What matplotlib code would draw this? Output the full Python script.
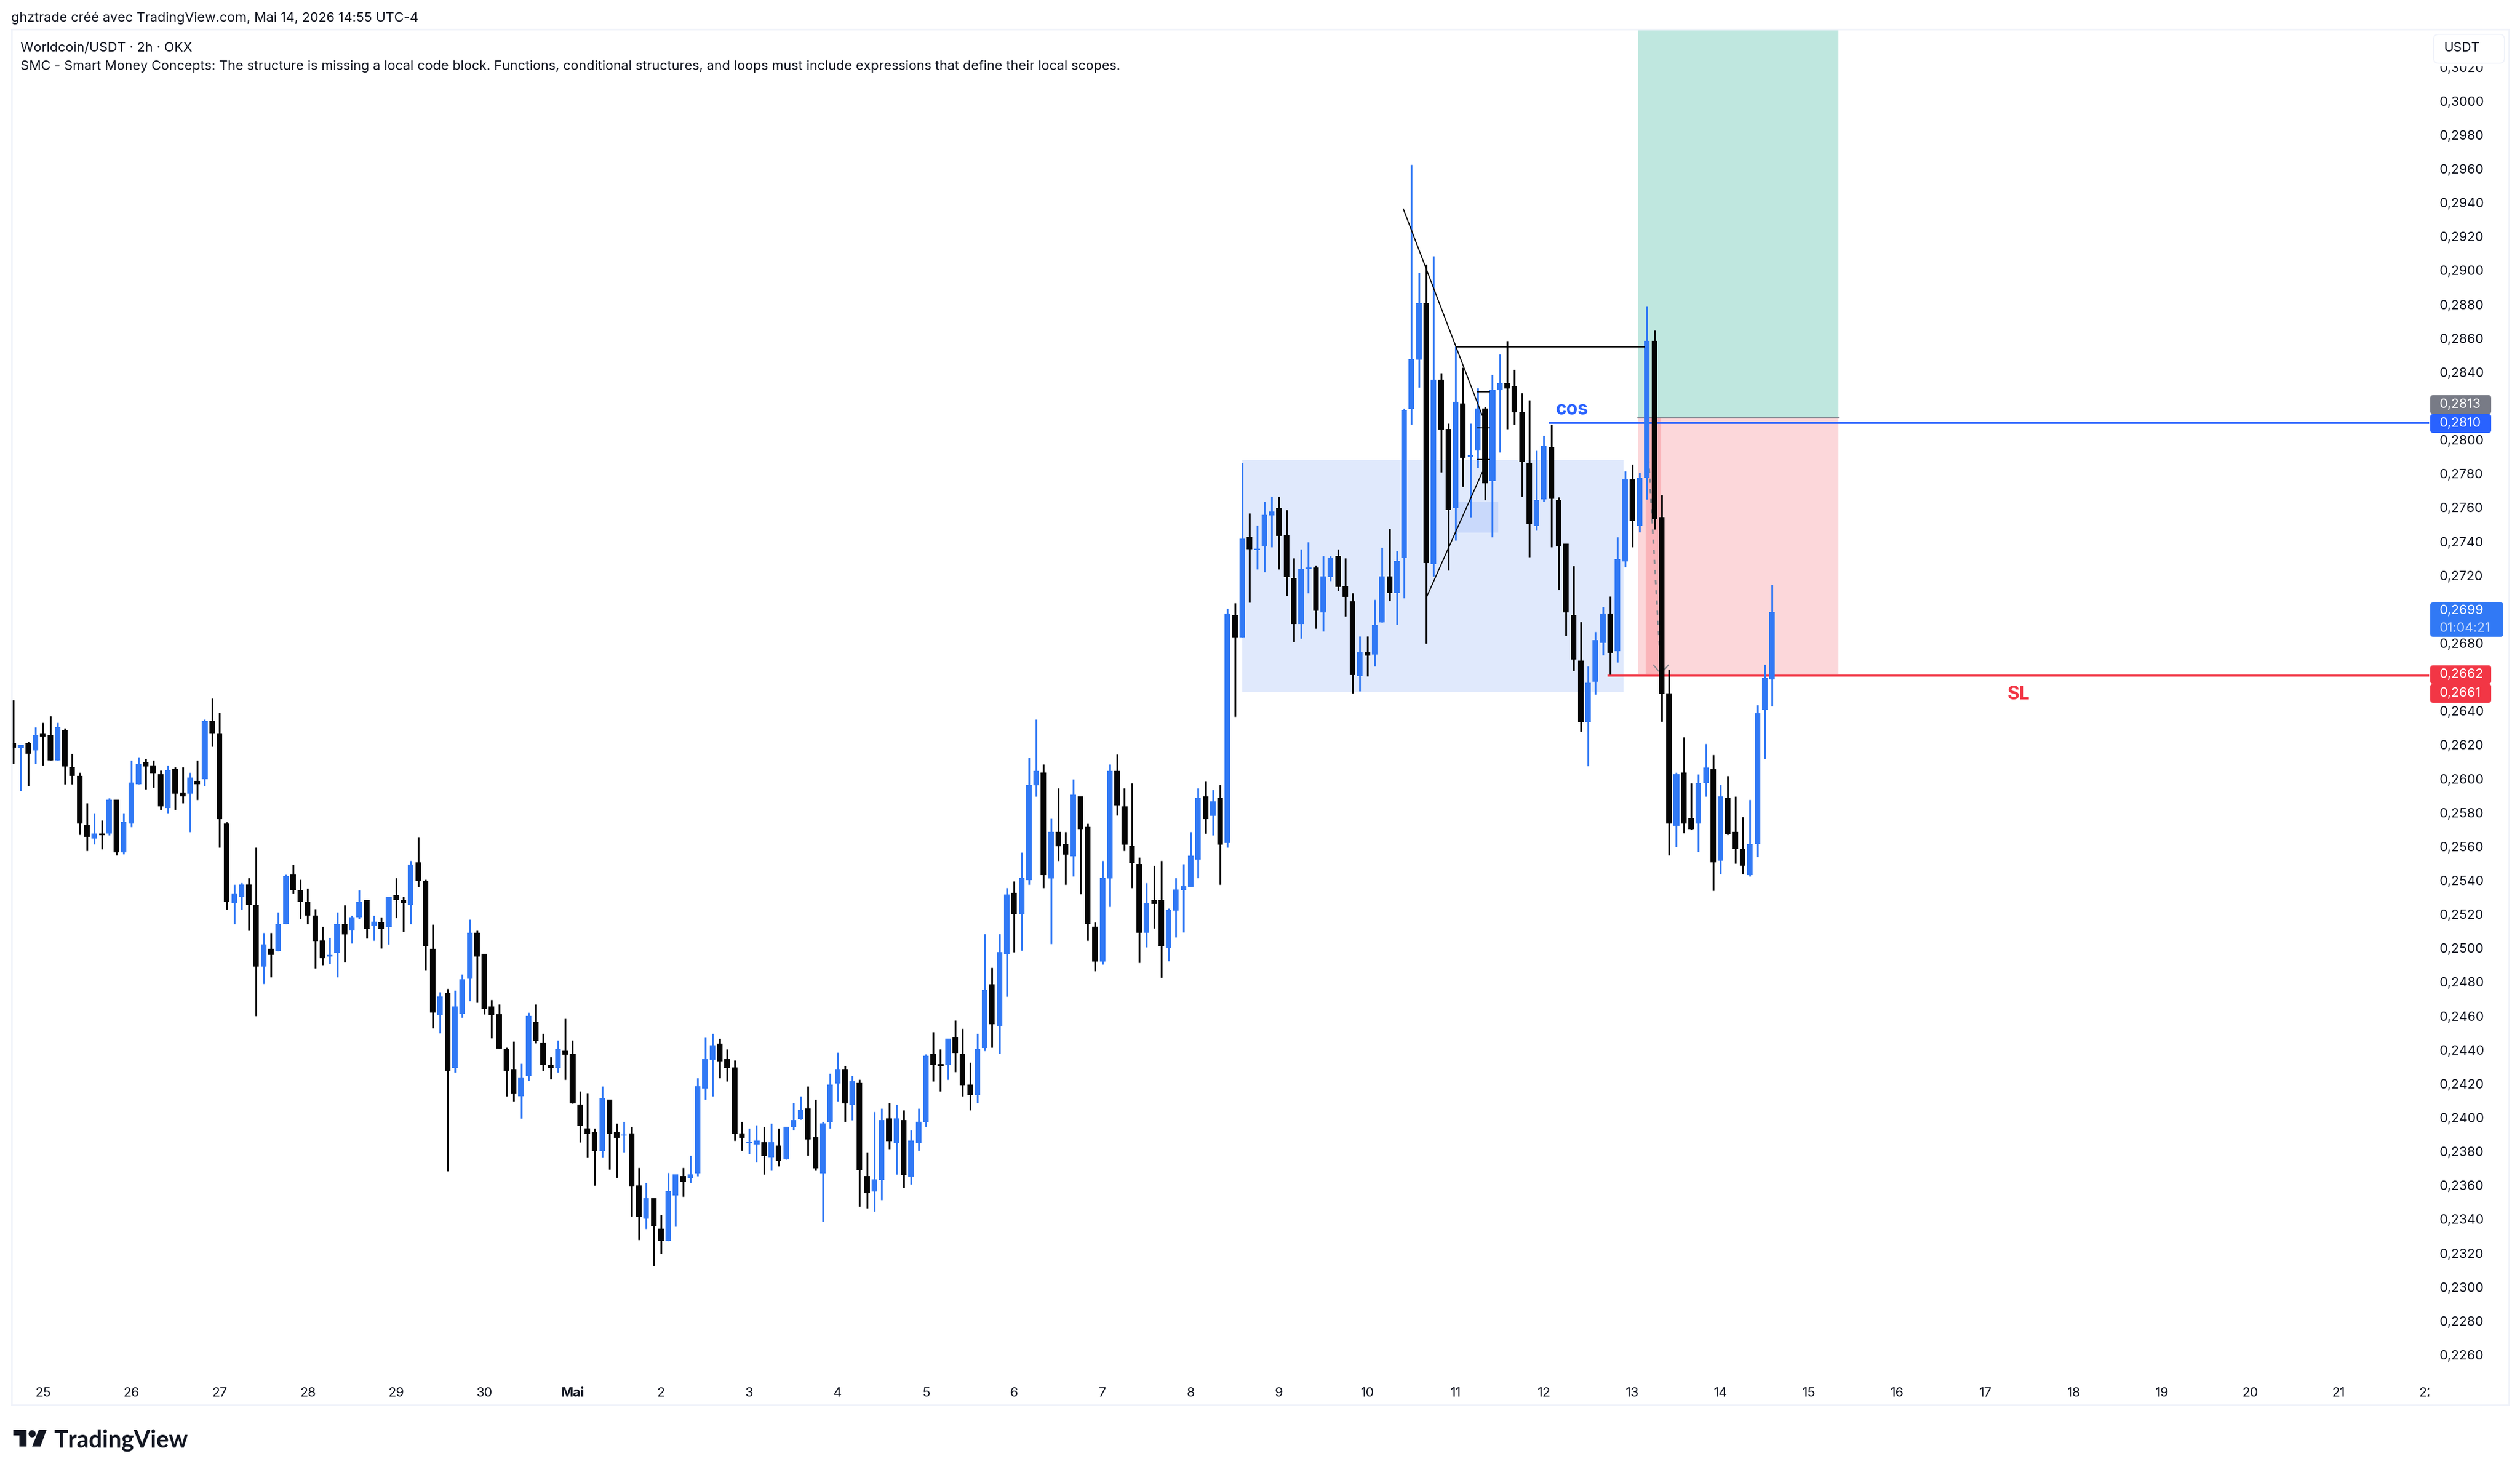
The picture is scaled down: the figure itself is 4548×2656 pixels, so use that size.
import numpy as np
import matplotlib
matplotlib.use("Agg")
import matplotlib.pyplot as plt
from matplotlib.patches import FancyBboxPatch, Polygon, Circle, Rectangle
from matplotlib.transforms import Affine2D

# lectures en 1/10000 USDT, une valeur par bougie 2h
highs = [2646.5,2620,2622,2630.5,2633,2637,2633,2630,2615,2604,
         2586,2580,2576,2589,2588,2580,2611,2613,2612,2611,
         2605,2608,2607,2607,2604,2611,2635,2647.5,2639,2575,
         2538,2539,2542,2560,2510,2510,2522,2544,2550,2541,
         2536,2524,2513.5,2507,2522,2526,2520,2535,2529,2520,
         2519,2531,2542,2531,2552,2566,2541,2514.6,2475,2477,
         2476,2485.5,2517.5,2511,2497.6,2470.6,2468,2442.6,2446,2433,
         2463,2468,2450.7,2437,2446.8,2459.6,2446.8,2417,2416,2395,
         2419.8,2412,2398,2399,2396,2372,2363.2,2354,2344.4,2369.2,
         2368.2,2372,2379.1,2424.7,2448.8,2450.8,2447.8,2441.7,2434.9,2399,
         2395,2397,2396,2398,2395,2396,2410.1,2414,2419.8,2412,
         2399,2427.1,2439.7,2431.9,2426.1,2423.7,2381.1,2404.8,2406.8,2410.1,
         2409.1,2405.8,2394.2,2406.8,2438.7,2451.6,2441.7,2447.8,2458.6,2453.6,
         2433.9,2450.8,2509.2,2489.4,2509.2,2536.3,2540.2,2557,2612.7,2634.9,
         2608.7,2576.8,2594.7,2569.2,2600,2589.9,2574,2516.1,2552.2,2608.7,
         2614.7,2594.7,2597.7,2554,2539.1,2549.2,2552.2,2524.2,2542.1,2550.3,
         2569.2,2594.7,2599,2593.8,2596.8,2700.2,2703.4,2785.5,2756.1,2749,
         2762.9,2765.7,2765.7,2757.9,2729.8,2734.8,2739.1,2725.4,2731.1,2731.1,
         2734.8,2729.8,2709.1,2684,2684,2705.2,2735.9,2747,2733.9,2817.6,
         2960.7,2897.3,2902,2906.9,2838.2,2808.6,2853.9,2841.5,2808.6,2829.5,
         2818.4,2837.4,2849.4,2857.2,2840.2,2826.7,2822.3,2792.7,2801.7,2808,
         2765.5,2738,2725.2,2692.3,2666.4,2686.4,2701.2,2707.4,2742.2,2780.8,
         2784.7,2779.9,2877.4,2863.4,2766.8,2664.4,2603.9,2624.6,2597.7,2602.9,
         2620.8,2614.4,2596.7,2602,2589.8,2577.9,2587.9,2643.5,2667.3,2714]
lows = [2609,2593,2596,2609,2608,2611,2611,2597,2597,2567.5,
        2558,2562,2559,2567,2555.4,2556,2572,2597,2594,2595,
        2582,2580,2582,2586,2569,2588,2596,2619,2560,2523.5,
        2515,2523.5,2511,2461,2480,2484,2499,2515,2533,2518,
        2515,2489,2491,2491.5,2484,2492.6,2503.6,2518,2506.5,2505.4,
        2500.7,2503,2518.5,2510.4,2515,2537,2487.6,2454,2451,2370,
        2428,2460,2470,2469,2462,2448,2442,2414,2411,2401,
        2423,2445,2429,2424,2427.9,2423.7,2409.8,2386.9,2378.3,2361.5,
        2378.3,2371,2366.2,2381.1,2343.4,2329.7,2336.3,2314.4,2321.4,2329.2,
        2337.5,2355,2363.2,2367.2,2412,2414,2424.7,2422.7,2387.9,2382.1,
        2380.1,2375.3,2368.2,2370.2,2373,2377,2394.2,2400.2,2379.1,2370.3,
        2340.5,2395,2411,2399,2400,2349.3,2348.3,2346.3,2353.2,2383.1,
        2368.2,2360.4,2362.2,2382.1,2396,2422.7,2416.9,2423.7,2428.1,2414,
        2405.8,2410.1,2440.7,2442.6,2438.9,2472.5,2498.6,2499.5,2538.2,2589.9,
        2536.3,2503.5,2552.2,2538.2,2543,2532.6,2505.3,2487.4,2491.3,2525.1,
        2578.9,2558,2536.3,2492.2,2501.4,2512.4,2483.5,2493.4,2507.4,2510.2,
        2536.9,2542.1,2568,2567.1,2538.2,2560,2636.8,2683.2,2703.6,2723.2,
        2721.5,2736.1,2723.2,2707.6,2680.6,2682.5,2709.1,2688.4,2686.7,2716.3,
        2710.6,2695.4,2650.5,2651.8,2660.3,2666.4,2691.9,2704.5,2690.6,2706.3,
        2808,2829.8,2679.5,2718.9,2780.1,2722.4,2740.2,2771.8,2753.7,2782.7,
        2764,2742.2,2791.9,2805.4,2808,2765.7,2730.2,2746.1,2762.9,2736.1,
        2711.1,2684.3,2663.6,2627.9,2607.9,2649.7,2672.8,2661.4,2668.7,2724.6,
        2736.2,2745,2764.1,2746.7,2633.9,2555.4,2560.2,2568.3,2570.2,2557.4,
        2590,2534.7,2544.2,2567.4,2550.4,2544.2,2543,2554.3,2612,2642.7]
opens = [2621,2618,2621,2617,2627,2626,2611,2629,2607,2602,
         2573,2565,2568,2568,2588,2557,2574,2597,2610,2608,
         2603,2583,2606,2592,2591.5,2599,2600,2634,2627,2574,
         2527,2531,2538,2526,2490,2500.5,2499,2515,2544,2535,
         2528,2520,2505.4,2496,2498,2515,2511,2519,2529,2514,
         2516,2513,2532,2529,2526,2551,2540,2500.5,2461.5,2474.5,
         2430.6,2462.5,2483,2510,2497.6,2466.6,2462,2441.5,2430,2414,
         2426,2457.5,2445,2432,2430.5,2440.7,2438.7,2409.1,2395,2393.2,
         2381.8,2412,2393.2,2390.9,2392.2,2361.4,2342.1,2354,2336.3,2329.2,
         2355.7,2367.2,2365.8,2368.8,2418.6,2435.4,2444.8,2435.7,2430.9,2392.2,
         2386.6,2385.7,2386.9,2378,2385.1,2377,2395.7,2400.7,2406.8,2389.9,
         2368.8,2398.7,2421.4,2429.9,2408.8,2421.7,2367.2,2358,2364.8,2401,
         2386.6,2400,2366.8,2386.6,2398.7,2438.7,2432.9,2432.5,2448.8,2438.7,
         2420.8,2414.6,2442.3,2479.6,2455.3,2497.3,2533.3,2521,2540.8,2596.4,
         2603.9,2541.7,2569.2,2561.9,2554.8,2589.9,2572,2513.5,2493,2541.7,
         2604.8,2584.1,2561,2550.3,2510,2529,2529,2501,2522.9,2535,
         2536.9,2552.7,2589.9,2578.5,2589,2562.6,2696.3,2683.2,2742,2734.6,
         2736.5,2754.8,2759,2743.1,2718,2691,2723.2,2724.1,2697.8,2718.7,
         2731.1,2713,2704.3,2660.3,2674.4,2673.2,2691.9,2718.9,2709.1,2729.8,
         2817.3,2846.1,2879.2,2726.1,2834.3,2805.4,2758.8,2820.4,2789.2,2792.7,
         2817.6,2774.9,2828.2,2832.4,2830.4,2815.6,2785.5,2748.5,2764.2,2794.7,
         2763.8,2738,2696.3,2669.5,2633.4,2657.3,2679.9,2697.1,2675.2,2727.9,
         2775.8,2748.6,2776.8,2857.2,2753.9,2650.4,2572.6,2603.9,2577.2,2573.8,
         2597.7,2605.8,2552.1,2588.9,2569,2559,2543.8,2561.9,2640.6,2658.5]
closes = [2618.5,2620,2615,2626,2625,2611,2630.5,2607.5,2602,2574,
          2566,2568,2567,2588,2557,2575,2598,2609,2607.5,2603.5,
          2584,2605,2591.5,2590,2601,2597,2634,2627,2576.6,2528,
          2533,2538,2526,2490,2503,2497,2515,2543,2535,2528,
          2520,2505,2495,2497,2515,2509,2519,2528,2512,2516.4,
          2512,2531,2529,2527,2550,2540,2502,2463,2472.5,2429,
          2466.6,2482.6,2510,2496,2465.4,2461.5,2442,2429,2415.6,2425,
          2461,2446.5,2432.4,2430.6,2441.7,2438.3,2409.8,2396.7,2391.9,2381.8,
          2413,2391.9,2389.6,2391.6,2361,2343.1,2354,2337.8,2329.2,2358.4,
          2368.2,2363.9,2368.2,2419.8,2435.7,2443.8,2434.5,2430.5,2391.9,2389.6,
          2387.2,2387.9,2378.8,2386.9,2376,2396,2400,2405.8,2388.6,2371.6,
          2398,2420.8,2429.9,2409.8,2422.7,2370.6,2357,2365.2,2400,2387.6,
          2401,2367.8,2387.9,2399,2437.7,2432.5,2431.5,2447.8,2439.3,2420.4,
          2414.6,2441.7,2476.3,2456.3,2498.6,2532.4,2521,2542.1,2596.8,2604.8,
          2543.8,2569.2,2560.6,2555.7,2590.8,2570.7,2515,2493,2542.1,2604.8,
          2584.7,2561.7,2550.9,2510,2527.2,2526.8,2502.1,2523.2,2535.2,2537.2,
          2555.2,2589,2576.6,2586.9,2561.7,2697.1,2683.2,2741.1,2734.8,2735.2,
          2755,2757,2742.6,2718.7,2691,2723.2,2724.1,2698.9,2718.9,2730,
          2712.8,2706.9,2661.2,2674.4,2672.3,2690.4,2718.9,2709.1,2728,2816.5,
          2846.5,2879.2,2726.7,2834.3,2805.2,2757.9,2821.5,2788.4,2790.1,2817.6,
          2773.6,2828.7,2832.4,2829.3,2815.2,2786.2,2749.6,2763.8,2795.8,2764.6,
          2736.5,2697.8,2670.1,2633.4,2656.6,2681.4,2697.1,2674.2,2729.1,2775.8,
          2751.5,2776.8,2857.2,2752.5,2650.1,2573.8,2602.9,2573.8,2570.7,2597.7,
          2606.7,2551.2,2589.8,2567.9,2559,2549.3,2561.9,2638.7,2659.4,2698]

day_labels = ["25","26","27","28","29","30","Mai","2","3","4","5","6","7","8","9","10",
              "11","12","13","14","15","16","17","18","19","20","21","22"]
first_day_bar = 4
bars_per_day = 12

price_ticks = np.arange(2260, 3021, 20)

entry_price = 2813
cos_price = 2810
stop_price = 2662
sl_line_price = 2661

W, H = 4548, 2656
BLUE = "#3179f5"
BLACK = "#050505"
TXT = "#131722"
FS = 17
HEAD_FS = 17.2
plt.rcParams["font.family"] = ["Inter", "DejaVu Sans"]


# les lectures ont ete faites avec 3.075 px par unite, l'axe en a 3.057
def to_price(values):
    return 2640 + (np.asarray(values, dtype=float) - 2640) * 3.075 / 3.057


fig = plt.figure(figsize=(W / 100, H / 100), dpi=100, facecolor="white")

# zone du graphique en pixels
left, right, top, bottom = 21, 4384, 53, 2490
ax = fig.add_axes([left / W, 1 - bottom / H, (right - left) / W, (bottom - top) / H])
bar_px = 13.28
y_top = 2640 + (1282.8 - top) / 3.057
ax.set_xlim((left - 24.2) / bar_px, (right - 24.2) / bar_px)
ax.set_ylim(2640 - (bottom - 1282.8) / 3.057, y_top)
for s in ax.spines.values():
    s.set_visible(False)

x = np.arange(len(opens))
o, c, h, l = map(to_price, (opens, closes, highs, lows))
colors = [BLUE if cl >= op else BLACK for op, cl in zip(o, c)]

# formes dessinees
ax.fill_between([167, 218.8], 2651, 2788.2, color="#e0e9fc", lw=0, zorder=1)
ax.fill_between([195.9, 201.8], 2745.2, 2763.1, color="#c9d9fb", lw=0, zorder=1.1)
ax.fill_between([220.8, 248], entry_price, y_top, color="#bfe7df", lw=0, zorder=1)
ax.fill_between([220.8, 248], stop_price, entry_price, color="#fcd7da", lw=0, zorder=1)
ax.fill_between([221.8, 223.9], stop_price, entry_price, color="#fab4b9", lw=0, zorder=1.1)
ax.plot([220.8, 248], [entry_price, entry_price], color="#787b86", lw=1.6, zorder=1.2)
ax.plot([221.9, 223.9], [entry_price, stop_price], color="#8a8a92", lw=2.2, ls=(0, (2.5, 3.5)), zorder=1.3)
ax.plot([222.9, 223.9, 224.9], [stop_price + 5, stop_price, stop_price + 5], color="#8a8a92", lw=1.6, zorder=1.3)

ax.plot([208.8, 340], [cos_price, cos_price], color="#2962ff", lw=2.6, zorder=2)
ax.plot([216.8, 340], [sl_line_price, sl_line_price], color="#f23645", lw=2.6, zorder=2)

ax.vlines(x, l, h, colors=colors, lw=2.3, zorder=3)
ax.bar(x, np.abs(c - o), bottom=np.minimum(o, c), width=0.76, color=colors, lw=0, zorder=3.1)

ax.plot([196.1, 221.7], [2854.8, 2854.8], color="black", lw=1.4, zorder=4)
ax.plot([188.9, 199.6], [2936.2, 2814.6], color="black", lw=1.4, zorder=4)
ax.plot([192, 199.6], [2706.7, 2780.7], color="black", lw=1.4, zorder=4)
for lvl in (2828.5, 2807.2, 2788.6):
    ax.plot([199, 200.6], [lvl, lvl], color="black", lw=1.4, zorder=4)

ax.text(211.8, 2818, "cos", color="#2962ff", fontsize=24, fontweight="bold", ha="center", va="center", zorder=5)
ax.text(272.5, 2649.7, "SL", color="#f23645", fontsize=24, fontweight="bold", ha="center", va="center", zorder=5)

# axes
ax.set_xticks(first_day_bar + bars_per_day * np.arange(len(day_labels)))
ax.set_xticklabels(day_labels)
ax.yaxis.tick_right()
ax.set_yticks(price_ticks)
ax.set_yticklabels([f"0,{p}" for p in price_ticks])
ax.tick_params(axis="y", length=0, pad=13.7, labelsize=FS, labelcolor=TXT)
ax.tick_params(axis="x", length=0, pad=9.5, labelsize=FS, labelcolor=TXT)
for t in ax.get_xticklabels():
    if t.get_text() == "Mai":
        t.set_fontweight("bold")

# coordonnees pixels (origine en haut a gauche)
pix = Affine2D().scale(1, -1).translate(0, H)

# le dernier jour est coupe par l'echelle de prix
fig.add_artist(Rectangle((4384, 2492), 18, 36, transform=pix, fc="white", ec="none", zorder=5))

# cadre du graphique
for xs, ys in [((21, 4528), (53, 53)), ((21, 21), (53, 2535)), ((21, 4528), (2535, 2535)), ((4528, 4528), (53, 2535))]:
    fig.add_artist(plt.Line2D(xs, ys, transform=pix, color="#f0f3fa", lw=2))

fig.text(20, 33, "ghztrade créé avec TradingView.com, Mai 14, 2026 14:55 UTC-4", transform=pix,
         fontsize=HEAD_FS, color=TXT, va="center")
fig.text(37, 87, "Worldcoin/USDT · 2h · OKX", transform=pix, fontsize=HEAD_FS, color=TXT, va="center")
fig.text(37, 120, "SMC - Smart Money Concepts: The structure is missing a local code block. Functions, conditional structures, and loops must include expressions that define their local scopes.",
         transform=pix, fontsize=HEAD_FS, color=TXT, va="center")

# le bouton USDT masque le haut du dernier prix
fig.add_artist(Rectangle((4392, 100), 128, 20, transform=pix, fc="white", ec="none", zorder=9))
fig.add_artist(FancyBboxPatch((4392, 62), 128, 52, boxstyle="round,pad=0,rounding_size=9", transform=pix,
                              fc="white", ec="#f0f3fa", lw=1.4, zorder=10))
fig.text(4411, 87, "USDT", transform=pix, fontsize=FS, color=TXT, va="center", zorder=11)


def price_tag(y0, y1, color, texts, x1=4496):
    box = FancyBboxPatch((4386, y0), x1 - 4386, y1 - y0, boxstyle="round,pad=0,rounding_size=5",
                         transform=pix, fc=color, ec="none", zorder=11)
    fig.add_artist(box)
    step = (y1 - y0) / len(texts)
    for k, (s, col) in enumerate(texts):
        fig.text(4403, y0 + step * (k + 0.5), s, transform=pix, fontsize=FS, color=col, va="center", zorder=12)


price_tag(713, 747, "#787b86", [("0,2813", "white")])
price_tag(747, 781, "#2962ff", [("0,2810", "white")])
price_tag(1087, 1149, BLUE, [("0,2699", "white"), ("01:04:21", "#c4d8fb")], x1=4518)
price_tag(1200.5, 1234, "#f23645", [("0,2662", "white")])
price_tag(1234, 1268, "#f23645", [("0,2661", "white")])

# logo
fig.add_artist(Polygon([(24, 2580), (48, 2580), (48, 2610), (35, 2610), (35, 2590), (24, 2590)], transform=pix, fc="#131722", ec="none"))
fig.add_artist(Circle((58, 2587), 6.5, transform=pix, fc="#131722", ec="none"))
fig.add_artist(Polygon([(70, 2580), (84, 2580), (73, 2610), (58, 2610)], transform=pix, fc="#131722", ec="none"))
fig.text(97, 2599, "TradingView", transform=pix, fontsize=30.7, fontweight="bold", color="#131722", va="center", family=["Lato"])

fig.savefig("out.png", dpi=100)
